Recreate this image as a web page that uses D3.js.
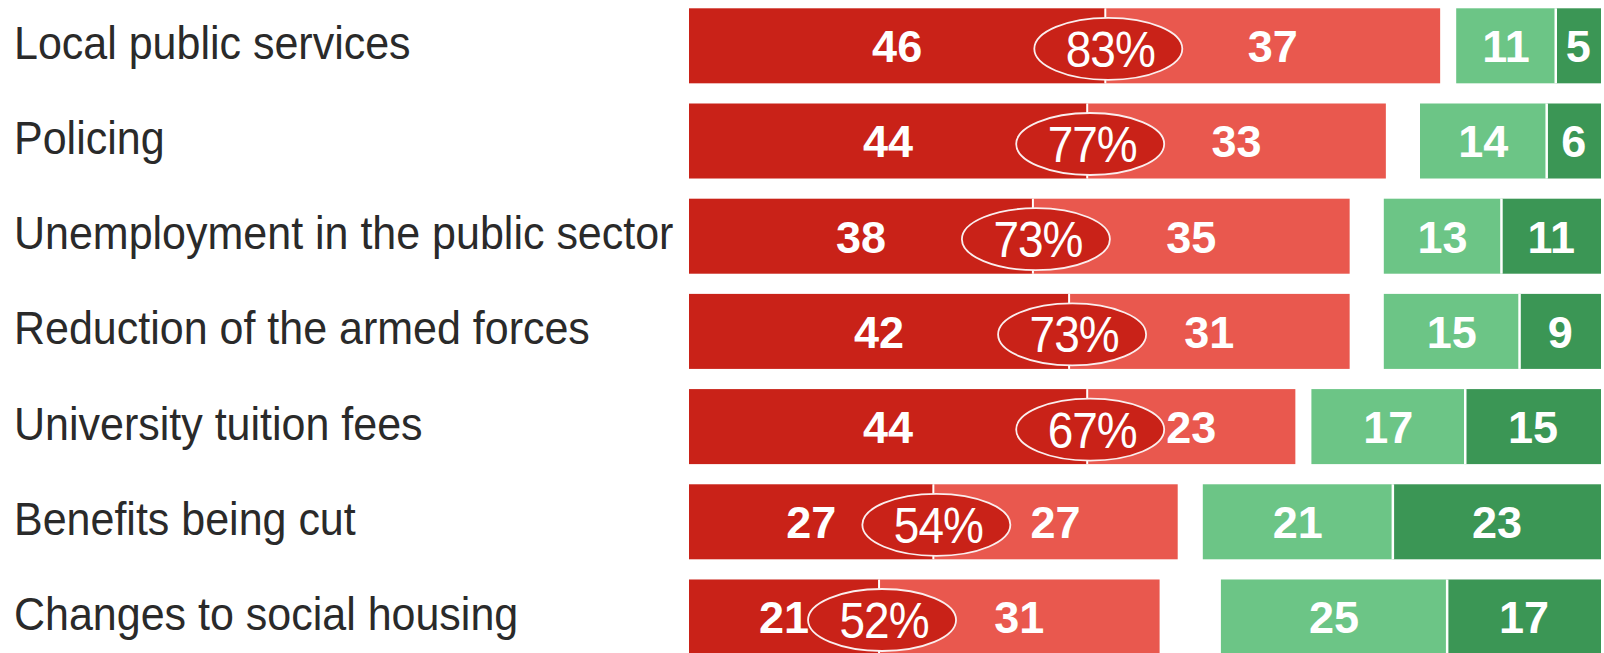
<!DOCTYPE html>
<html>
<head>
<meta charset="utf-8">
<script src="https://cdn.jsdelivr.net/npm/d3@7"></script>
<style>
  html, body { margin: 0; padding: 0; background: #ffffff; }
  svg { display: block; }
</style>
</head>
<body>
<script>
const categories = [
  "Local public services",
  "Policing",
  "Unemployment in the public sector",
  "Reduction of the armed forces",
  "University tuition fees",
  "Benefits being cut",
  "Changes to social housing"
];
const darkRed    = [46, 44, 38, 42, 44, 27, 21];
const lightRed   = [37, 33, 35, 31, 23, 27, 31];
const totalLabels = ["83%", "77%", "73%", "73%", "67%", "54%", "52%"];
const lightGreen = [11, 14, 13, 15, 17, 21, 25];
const darkGreen  = [5, 6, 11, 9, 15, 23, 17];

const W = 1604, H = 653;
const colors = { dr: "#c92218", lr: "#e9584e", lg: "#6cc586", dg: "#3b9655" };
const font = "'Liberation Sans', Arial, Helvetica, sans-serif";

const svg = d3.select("body").append("svg").attr("width", W).attr("height", H);

const redStart = 689, greenEnd = 1601;
const x = d3.scaleLinear().domain([0, 100]).range([0, 905]);
const y = d3.scaleBand().domain(categories).range([8.3, 654.5]).paddingInner(0.212).paddingOuter(0);
const bw = y.bandwidth();

const rows = categories.map((c, i) => ({
  cat: c, dr: darkRed[i], lr: lightRed[i], tot: totalLabels[i], lg: lightGreen[i], dg: darkGreen[i]
}));

const g = svg.selectAll("g.row").data(rows).join("g")
  .attr("class", "row")
  .attr("transform", d => `translate(0,${y(d.cat)})`);

// category labels
g.append("text")
  .attr("transform", `translate(14,${bw / 2 + 13}) scale(1,1.07)`)
  .attr("font-family", font).attr("font-size", 43).attr("fill", "#2a2a2a")
  .text(d => d.cat);

// red segments
g.append("rect").attr("x", redStart).attr("y", 0).attr("width", d => x(d.dr)).attr("height", bw).attr("fill", colors.dr);
g.append("rect").attr("x", d => redStart + x(d.dr)).attr("y", 0).attr("width", d => x(d.lr)).attr("height", bw).attr("fill", colors.lr);
g.append("line")
  .attr("x1", d => redStart + x(d.dr)).attr("x2", d => redStart + x(d.dr))
  .attr("y1", 0).attr("y2", bw).attr("stroke", "#fff").attr("stroke-width", 2);

// green segments (right aligned)
g.append("rect").attr("x", d => greenEnd - x(d.lg + d.dg)).attr("y", 0).attr("width", d => x(d.lg)).attr("height", bw).attr("fill", colors.lg);
g.append("rect").attr("x", d => greenEnd - x(d.dg)).attr("y", 0).attr("width", d => x(d.dg)).attr("height", bw).attr("fill", colors.dg);
g.append("line")
  .attr("x1", d => greenEnd - x(d.dg)).attr("x2", d => greenEnd - x(d.dg))
  .attr("y1", 0).attr("y2", bw).attr("stroke", "#fff").attr("stroke-width", 2.5);

// value labels
const valText = (sel, xf, tf) => sel.append("text")
  .attr("x", xf).attr("y", bw / 2 + 16.5)
  .attr("text-anchor", "middle")
  .attr("font-family", font).attr("font-weight", "bold").attr("font-size", 45).attr("fill", "#fff")
  .text(tf);

valText(g, d => redStart + x(d.dr) / 2, d => d.dr);
valText(g, d => redStart + x(d.dr) + x(d.lr) / 2, d => d.lr);
valText(g, d => greenEnd - x(d.lg + d.dg) + x(d.lg) / 2, d => d.lg);
valText(g, d => greenEnd - x(d.dg) / 2, d => d.dg);

// total ellipse
g.append("ellipse")
  .attr("cx", d => redStart + x(d.dr) + 3).attr("cy", bw / 2 + 3)
  .attr("rx", 74).attr("ry", 31)
  .attr("fill", colors.dr).attr("stroke", "#fbeeee").attr("stroke-width", 1.8);
g.append("text")
  .attr("transform", d => `translate(${redStart + x(d.dr) + 5},${bw / 2 + 21}) scale(1,1.08)`)
  .attr("text-anchor", "middle")
  .attr("font-family", font).attr("font-size", 46).attr("letter-spacing", -1).attr("fill", "#fff")
  .text(d => d.tot);
</script>
</body>
</html>
